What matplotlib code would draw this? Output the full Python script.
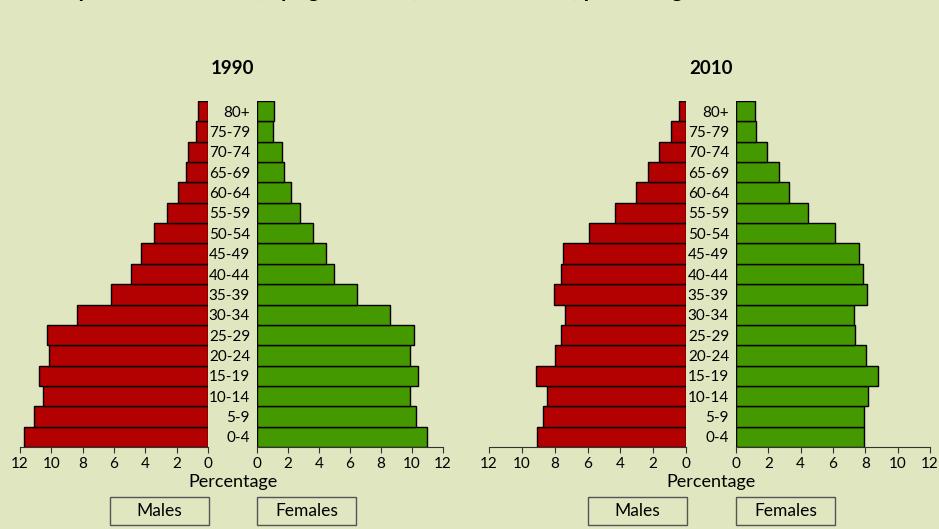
import matplotlib.pyplot as plt
from matplotlib.patches import Rectangle

plt.rcParams['font.family'] = ['Lato', 'DejaVu Sans']

ages = ['0-4', '5-9', '10-14', '15-19', '20-24', '25-29', '30-34', '35-39',
        '40-44', '45-49', '50-54', '55-59', '60-64', '65-69', '70-74', '75-79', '80+']

# percentages, from the youngest group up
males_1990 = [11.72, 11.09, 10.54, 10.79, 10.17, 10.26, 8.33, 6.20,
              4.91, 4.27, 3.42, 2.63, 1.91, 1.40, 1.25, 0.79, 0.64]
females_1990 = [10.95, 10.26, 9.84, 10.39, 9.84, 10.11, 8.59, 6.47,
                4.95, 4.44, 3.60, 2.76, 2.19, 1.74, 1.59, 1.05, 1.09]
males_2010 = [9.07, 8.70, 8.48, 9.15, 7.97, 7.63, 7.36, 8.03,
              7.63, 7.52, 5.92, 4.33, 3.05, 2.32, 1.63, 0.89, 0.43]
females_2010 = [7.92, 7.90, 8.19, 8.78, 8.04, 7.38, 7.32, 8.11,
                7.84, 7.59, 6.12, 4.45, 3.26, 2.64, 1.90, 1.22, 1.18]

years = ['1990', '2010']
xticks = [0, 2, 4, 6, 8, 10, 12]

bg = '#e0e6c0'
red = '#b30000'
green = '#449900'

W, H = 939, 529
fig = plt.figure(figsize=(W / 100, H / 100), dpi=100, facecolor=bg)

def px(x0, x1):
    return x0 / W, (x1 - x0) / W

bottom = 1 - 447 / H
height = 346 / H

panels = [
    (years[0], males_1990, females_1990, (20, 208), (257, 443)),
    (years[1], males_2010, females_2010, (489, 686), (736, 930)),
]

y = list(range(len(ages)))

for year, m, f, mx, fx in panels:
    l, w = px(*mx)
    axm = fig.add_axes([l, bottom, w, height])
    l, w = px(*fx)
    axf = fig.add_axes([l, bottom, w, height])

    axm.barh(y, m, height=1.0, color=red, edgecolor='black', linewidth=1)
    axf.barh(y, f, height=1.0, color=green, edgecolor='black', linewidth=1)

    for ax in (axm, axf):
        ax.set_facecolor(bg)
        ax.set_ylim(-0.5, len(ages) - 0.5)
        ax.set_xticks(xticks)
        for s in ('top', 'right', 'left'):
            ax.spines[s].set_visible(False)
        ax.spines['bottom'].set_color('#333333')
        ax.tick_params(axis='x', length=4, color='#333333', labelsize=11, pad=3)
    axm.set_xlim(12, 0)
    axf.set_xlim(0, 12)
    axm.set_yticks([])
    axf.set_yticks(y)
    axf.set_yticklabels(ages, fontsize=11)
    axf.tick_params(axis='y', length=0, pad=5)

    # centre between the two halves
    cx = (mx[1] + fx[0]) / 2 / W
    fig.text(cx, 1 - 68 / H, year, ha='center', va='center',
             fontsize=13.5, fontweight='bold')
    fig.text(cx, 1 - 482 / H, 'Percentage', ha='center', va='center', fontsize=13)

    # legend boxes
    for x0, label in ((mx[1] - 98, 'Males'), (fx[0], 'Females')):
        r = Rectangle((x0 / W, 1 - 525 / H), 99 / W, 28 / H, transform=fig.transFigure,
                      facecolor=bg, edgecolor='#555555', linewidth=1)
        fig.add_artist(r)
        fig.text((x0 + 49.5) / W, 1 - 511 / H, label, ha='center', va='center', fontsize=12.5)

# main title, cut off at the top of the image as in the source
fig.text(0.055, 1 + 2.8 / H, 'Population structure, by age and sex, 1990 and 2010, percentages',
         ha='left', va='baseline', fontsize=16, fontweight='bold')

fig.savefig('out.png', dpi=100, facecolor=bg)
